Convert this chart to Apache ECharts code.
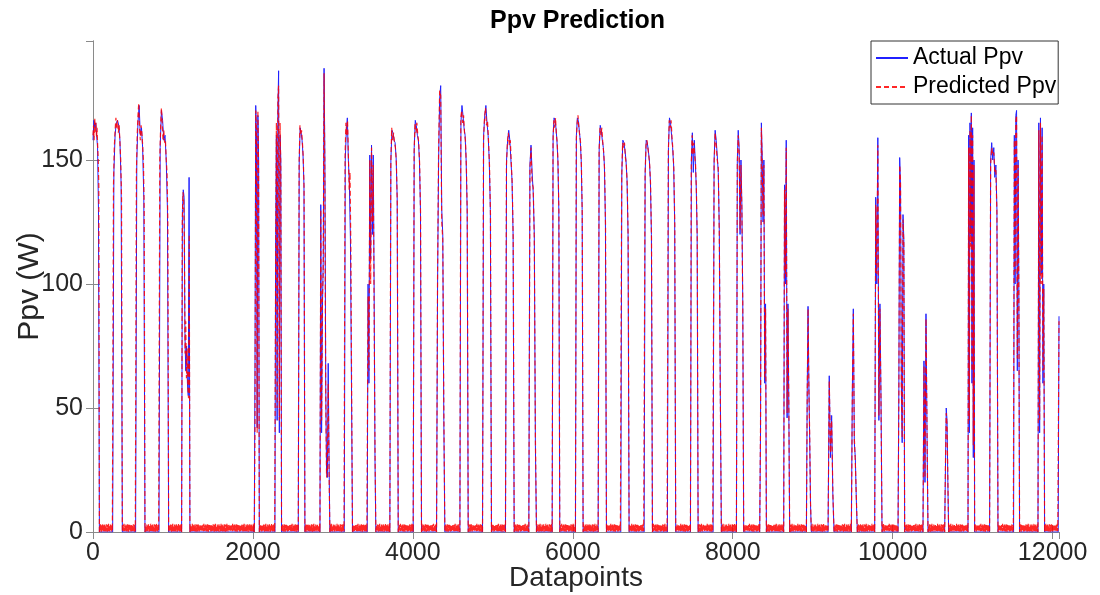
<!DOCTYPE html>
<html>
<head>
<meta charset="utf-8">
<style>
html, body { margin: 0; padding: 0; background: #fff; }
#myChart { width: 1100px; height: 595px; }
</style>
</head>
<body>
<div id="myChart"></div>
<script src="https://cdn.jsdelivr.net/npm/echarts@6/dist/echarts.min.js"></script>
<script>
// x range of each daylight period (datapoint index)
const dayStart = [0, 246, 533, 825, 1108, 2017, 2275, 2567, 2838, 3142, 3429, 3712, 4004, 4296, 4588, 4871, 5158, 5450, 5742, 6033, 6317, 6600, 6892, 7183, 7471, 7754, 8046, 8337, 8637, 8921, 9192, 9483, 9775, 10067, 10379, 10650, 10942, 11212, 11512, 11817, 12070]
const dayEnd = [80, 367, 650, 946, 1212, 2080, 2358, 2650, 2962, 3245, 3537, 3817, 4108, 4400, 4692, 4983, 5267, 5546, 5837, 6129, 6421, 6704, 6996, 7287, 7567, 7858, 8137, 8421, 8712, 8983, 9267, 9558, 9867, 10150, 10442, 10700, 11025, 11317, 11587, 11900, 12080]

// readings across each day, evenly spaced from start to end (W)
const dayActual = [
  [158, 166, 163, 165, 160, 155, 130, 0],
  [0, 145, 160, 165, 166, 164, 158, 140, 0],
  [0, 150, 165, 172, 160, 163, 155, 135, 0],
  [0, 155, 170, 166, 158, 160, 150, 130, 0],
  [0, 130, 138, 135, 80, 65, 75, 60, 55, 143, 0],
  [0, 70, 172, 160, 42, 168, 150, 0],
  [0, 120, 160, 45, 170, 186, 40, 160, 150, 0],
  [0, 150, 163, 161, 158, 152, 140, 0],
  [0, 132, 40, 90, 110, 187, 150, 60, 25, 22, 68, 30, 0],
  [0, 150, 162, 167, 150, 140, 118, 60, 0],
  [0, 100, 60, 152, 110, 156, 120, 152, 100, 30, 0],
  [0, 150, 162, 161, 158, 157, 151, 135, 0],
  [0, 155, 166, 164, 160, 158, 150, 130, 0],
  [0, 100, 150, 175, 180, 130, 120, 45, 0],
  [0, 165, 172, 168, 163, 160, 150, 130, 0],
  [0, 160, 168, 172, 165, 160, 150, 130, 0],
  [0, 150, 158, 162, 158, 150, 142, 120, 0],
  [0, 148, 156, 145, 137, 120, 35, 0],
  [0, 160, 167, 166, 163, 158, 150, 130, 0],
  [0, 160, 167, 166, 162, 158, 150, 130, 0],
  [0, 155, 164, 162, 158, 155, 148, 125, 0],
  [0, 145, 158, 157, 154, 150, 142, 120, 0],
  [0, 145, 158, 157, 154, 150, 142, 120, 0],
  [0, 155, 167, 165, 160, 155, 148, 125, 0],
  [0, 150, 161, 145, 158, 150, 140, 120, 0],
  [0, 150, 162, 158, 152, 145, 122, 55, 0],
  [0, 150, 162, 155, 120, 150, 132, 93, 0],
  [0, 40, 165, 152, 125, 150, 60, 92, 0],
  [0, 140, 100, 158, 46, 92, 50, 0],
  [0, 56, 91, 60, 37, 11, 0],
  [0, 63, 30, 47, 15, 0],
  [0, 56, 90, 36, 30, 13, 0],
  [0, 135, 100, 159, 45, 92, 55, 0],
  [0, 58, 151, 140, 60, 36, 128, 118, 0],
  [0, 69, 20, 88, 40, 0],
  [0, 25, 50, 45, 20, 0],
  [0, 160, 40, 165, 120, 169, 60, 163, 30, 150, 0],
  [0, 150, 157, 150, 155, 143, 148, 130, 0],
  [0, 160, 100, 168, 170, 65, 150, 100, 0],
  [0, 165, 40, 167, 104, 163, 60, 100, 0],
  [0, 87]
]
const dayPredicted = [
  [160, 164, 158, 167, 161, 165, 159, 163, 156, 150, 140, 0],
  [0, 140, 155, 162, 167, 163, 166, 161, 164, 157, 150, 135, 0],
  [0, 145, 160, 168, 173, 163, 158, 164, 161, 156, 150, 130, 0],
  [0, 150, 163, 171, 165, 158, 162, 157, 158, 150, 145, 125, 0],
  [0, 125, 137, 134, 118, 72, 85, 62, 74, 58, 54, 120, 0],
  [0, 45, 170, 162, 40, 170, 145, 0],
  [0, 110, 165, 50, 175, 180, 45, 165, 145, 0],
  [0, 148, 164, 160, 162, 157, 151, 138, 0],
  [0, 130, 45, 95, 105, 185, 140, 55, 22, 25, 60, 25, 0],
  [0, 152, 165, 160, 166, 152, 138, 145, 115, 55, 0],
  [0, 95, 65, 150, 100, 155, 125, 148, 90, 35, 0],
  [0, 148, 163, 158, 161, 157, 155, 149, 132, 0],
  [0, 153, 165, 161, 165, 160, 157, 148, 128, 0],
  [0, 105, 155, 178, 176, 125, 118, 50, 0],
  [0, 167, 170, 165, 168, 161, 158, 148, 128, 0],
  [0, 158, 167, 171, 164, 166, 158, 148, 128, 0],
  [0, 148, 157, 161, 156, 158, 149, 140, 118, 0],
  [0, 146, 155, 141, 139, 118, 38, 0],
  [0, 158, 166, 163, 167, 160, 157, 148, 128, 0],
  [0, 158, 165, 168, 163, 160, 157, 148, 128, 0],
  [0, 153, 163, 160, 163, 157, 153, 146, 123, 0],
  [0, 143, 157, 155, 157, 151, 148, 140, 118, 0],
  [0, 143, 156, 158, 155, 152, 148, 140, 118, 0],
  [0, 153, 166, 163, 166, 159, 154, 146, 123, 0],
  [0, 148, 160, 152, 157, 152, 148, 138, 118, 0],
  [0, 148, 161, 156, 150, 147, 120, 54, 0],
  [0, 148, 160, 153, 122, 148, 130, 90, 0],
  [0, 42, 163, 148, 128, 148, 62, 90, 0],
  [0, 138, 104, 155, 48, 90, 52, 0],
  [0, 54, 90, 58, 39, 12, 0],
  [0, 61, 32, 45, 16, 0],
  [0, 54, 88, 38, 28, 14, 0],
  [0, 132, 104, 156, 47, 90, 53, 0],
  [0, 56, 148, 142, 58, 38, 126, 116, 0],
  [0, 67, 22, 86, 42, 0],
  [0, 27, 48, 43, 22, 0],
  [0, 155, 45, 162, 115, 168, 65, 160, 35, 148, 0],
  [0, 148, 155, 152, 153, 145, 146, 128, 0],
  [0, 158, 105, 166, 168, 70, 148, 98, 0],
  [0, 162, 45, 165, 100, 160, 65, 98, 0],
  [0, 85]
]
// predicted output at night wobbles just above zero
const nightNoise = [1.2, 2.6, 0.2, 1.9, 3.1, 0.5, 2.2, 1.5, 0.1, 2.9, 0.8, 2.4, 0.3, 3.3, 1.7, 0.4, 2.7, 1.3, 0.2, 2.1, 1.0, 3.0, 0.3, 2.3]
const nightStep = 3

const xTicks = [0, 2000, 4000, 6000, 8000, 10000, 12000]
const yTicks = [0, 50, 100, 150]

let actualData = []
let predictedData = []
for (let i = 0; i < dayStart.length; i++) {
  let s = dayStart[i], e = dayEnd[i]
  let a = dayActual[i], p = dayPredicted[i]
  a.forEach((v, k) => actualData.push([s + (e - s) * k / (a.length - 1), v]))
  p.forEach((v, k) => predictedData.push([s + (e - s) * k / (p.length - 1), v]))
  if (i < dayStart.length - 1) {
    let k = i * 7
    for (let x = e + nightStep; x < dayStart[i + 1] - 2; x += nightStep) {
      predictedData.push([x, nightNoise[k % nightNoise.length]])
      k++
    }
  }
}

const font = 'Liberation Sans, Arial, Helvetica, sans-serif'
const axisGray = '#8a8a8a'

let myChart = echarts.init(document.getElementById('myChart'))
myChart.setOption({
  animation: false,
  backgroundColor: '#fff',
  title: {
    text: 'Ppv Prediction',
    left: 485,
    top: 4,
    textStyle: { fontFamily: font, fontSize: 25, fontWeight: 'bold', color: '#000' }
  },
  grid: { left: 93, right: 41, top: 41, bottom: 63, containLabel: false, outerBoundsMode: 'none' },
  legend: {
    left: 871,
    top: 41,
    orient: 'vertical',
    backgroundColor: '#fff',
    borderColor: '#333',
    borderWidth: 1,
    borderRadius: 0,
    padding: [4, 2, 4, 4],
    itemWidth: 32,
    itemHeight: 14,
    itemGap: 3,
    itemStyle: { opacity: 0 },
    textStyle: { fontFamily: font, fontSize: 23, color: '#000', lineHeight: 26 },
    data: ['Actual Ppv', 'Predicted Ppv']
  },
  xAxis: [
    {
      type: 'value',
      min: 0,
      max: 12080,
      interval: 2000,
      name: 'Datapoints',
      nameLocation: 'middle',
      nameGap: 32,
      nameMoveOverlap: false,
      nameTextStyle: { fontFamily: font, fontSize: 28, color: '#262626' },
      axisLine: { lineStyle: { color: axisGray } },
      axisTick: { inside: true, length: 7, lineStyle: { color: axisGray } },
      axisLabel: {
        fontFamily: font, fontSize: 25, color: '#262626', margin: 9, showMaxLabel: false,
        formatter: v => xTicks.includes(v) ? String(v) : ''
      },
      splitLine: { show: false }
    },
    {
      type: 'value',
      position: 'top',
      min: 0,
      max: 12080,
      interval: 2000,
      axisLine: { show: true, lineStyle: { color: axisGray } },
      axisTick: { inside: true, length: 7, lineStyle: { color: axisGray } },
      axisLabel: { show: false },
      splitLine: { show: false }
    }
  ],
  yAxis: [
    {
      type: 'value',
      min: 0,
      max: 198,
      interval: 50,
      name: 'Ppv (W)',
      nameLocation: 'middle',
      nameGap: 48,
      nameMoveOverlap: false,
      nameTextStyle: { fontFamily: font, fontSize: 30, color: '#262626' },
      axisLine: { show: true, lineStyle: { color: axisGray } },
      axisTick: { show: true, inside: true, length: 7, lineStyle: { color: axisGray } },
      axisLabel: {
        fontFamily: font, fontSize: 25, color: '#262626', margin: 10, showMaxLabel: false,
        formatter: v => yTicks.includes(v) ? String(v) : ''
      },
      splitLine: { show: false }
    },
    {
      type: 'value',
      position: 'right',
      min: 0,
      max: 198,
      interval: 50,
      axisLine: { show: true, lineStyle: { color: axisGray } },
      axisTick: { show: true, inside: true, length: 7, lineStyle: { color: axisGray } },
      axisLabel: { show: false },
      splitLine: { show: false }
    }
  ],
  series: [
    {
      name: 'Actual Ppv',
      type: 'line',
      symbol: 'none',
      sampling: null,
      lineStyle: { color: '#2020ff', width: 1 },
      itemStyle: { color: '#2020ff' },
      data: actualData
    },
    {
      name: 'Predicted Ppv',
      type: 'line',
      symbol: 'none',
      lineStyle: { color: '#ff0000', width: 1.2, type: [5, 3], opacity: 0.85 },
      itemStyle: { color: '#ff0000' },
      data: predictedData
    }
  ]
})
</script>
</body>
</html>
